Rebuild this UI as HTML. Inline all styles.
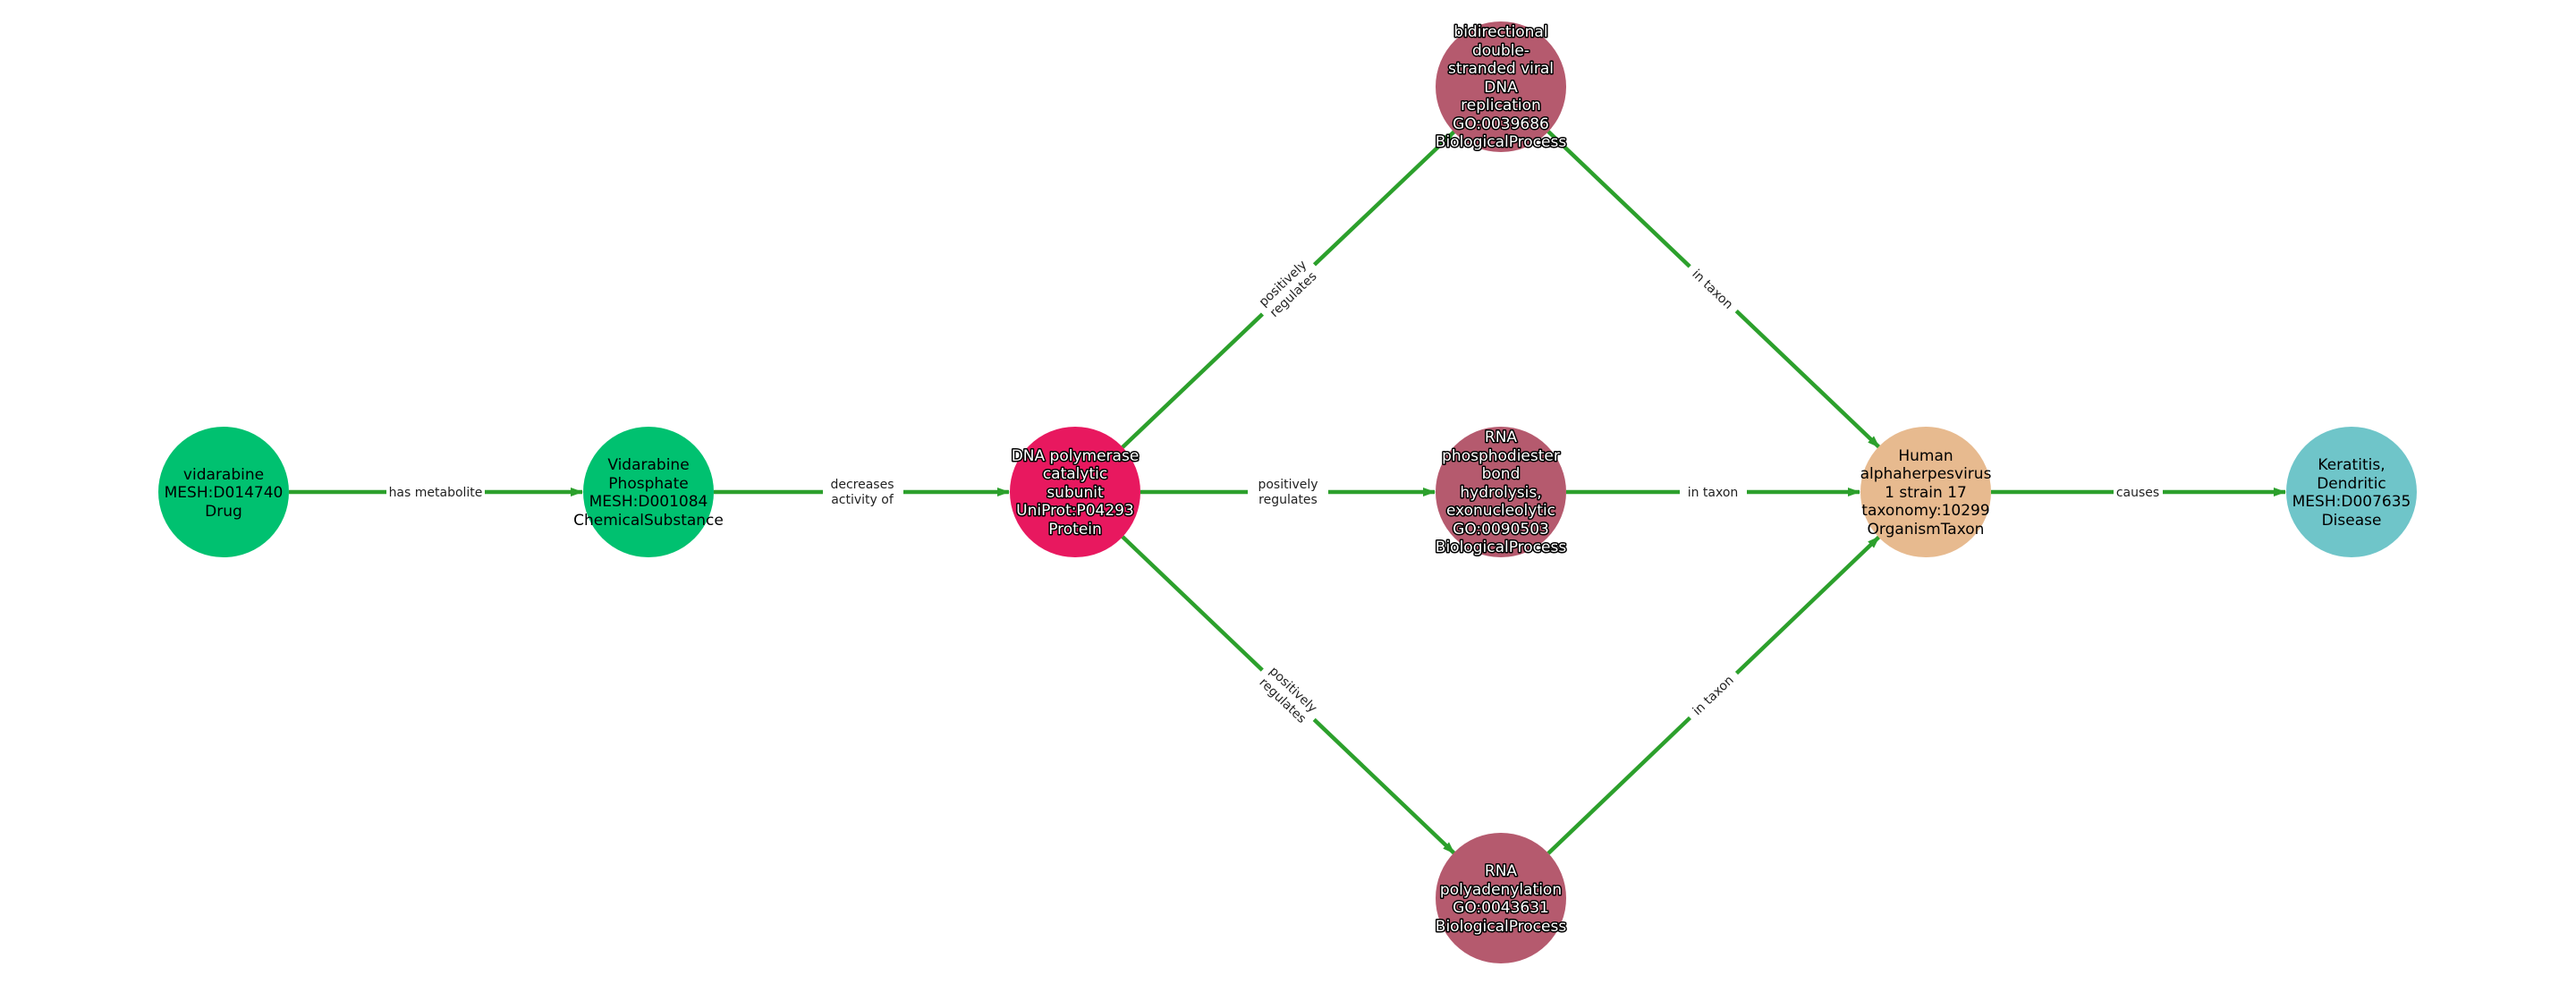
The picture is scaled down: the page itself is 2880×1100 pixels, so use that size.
<!DOCTYPE html>
<html><head><meta charset="utf-8"><style>
html,body{margin:0;padding:0;background:#fff}
svg{display:block}
.n{font-family:"DejaVu Sans","Liberation Sans",sans-serif;font-size:17px;text-anchor:middle}
.w{fill:#fff;stroke:#000;stroke-width:3px;paint-order:stroke;stroke-linejoin:round}
.e{font-family:"DejaVu Sans","Liberation Sans",sans-serif;font-size:14px;text-anchor:middle;fill:#222}
.l{stroke:#2ca02c;stroke-width:4.5;fill:none}
</style></head><body>
<svg width="2880" height="1100" viewBox="0 0 2880 1100" xmlns="http://www.w3.org/2000/svg">
<defs><marker id="a" markerWidth="14" markerHeight="10" refX="13" refY="5" orient="auto" markerUnits="userSpaceOnUse"><path d="M0,0 L14,5 L0,10 z" fill="#2ca02c"/></marker></defs>
<line class="l" x1="323" y1="550" x2="651" y2="550" marker-end="url(#a)"/>
<line class="l" x1="798" y1="550" x2="1128" y2="550" marker-end="url(#a)"/>
<line class="l" x1="1275" y1="550" x2="1604" y2="550" marker-end="url(#a)"/>
<line class="l" x1="1751" y1="550" x2="2079" y2="550" marker-end="url(#a)"/>
<line class="l" x1="2226" y1="550" x2="2555" y2="550" marker-end="url(#a)"/>
<line class="l" x1="1255" y1="500" x2="1626" y2="147" marker-end="url(#a)"/>
<line class="l" x1="1255" y1="600" x2="1626" y2="954" marker-end="url(#a)"/>
<line class="l" x1="1731" y1="147" x2="2101" y2="500" marker-end="url(#a)"/>
<line class="l" x1="1731" y1="954" x2="2101" y2="600" marker-end="url(#a)"/>
<g class="e">
<rect x="432" y="539" width="110" height="22" fill="#fff"/><text x="487" y="555">has metabolite</text>
<rect x="920" y="530" width="90" height="40" fill="#fff"/><text x="964" y="546">decreases</text><text x="964" y="563">activity of</text>
<rect x="1395" y="530" width="90" height="40" fill="#fff"/><text x="1440" y="546">positively</text><text x="1440" y="563">regulates</text>
<rect x="1878" y="539" width="75" height="22" fill="#fff"/><text x="1915" y="555">in taxon</text>
<rect x="2363" y="539" width="55" height="22" fill="#fff"/><text x="2390" y="555">causes</text>
<g transform="translate(1440,323) rotate(-43.6)"><rect x="-40" y="-20" width="80" height="40" fill="#fff"/><text x="0" y="-4">positively</text><text x="0" y="13">regulates</text></g>
<g transform="translate(1440,777) rotate(43.6)"><rect x="-40" y="-20" width="80" height="40" fill="#fff"/><text x="0" y="-4">positively</text><text x="0" y="13">regulates</text></g>
<g transform="translate(1915,323) rotate(43.6)"><rect x="-36" y="-11" width="72" height="22" fill="#fff"/><text x="0" y="5">in taxon</text></g>
<g transform="translate(1915,777) rotate(-43.6)"><rect x="-36" y="-11" width="72" height="22" fill="#fff"/><text x="0" y="5">in taxon</text></g>
</g>
<circle cx="250" cy="550" r="73" fill="#00c170"/>
<circle cx="725" cy="550" r="73" fill="#00c170"/>
<circle cx="1202" cy="550" r="73" fill="#e8185f"/>
<circle cx="1678" cy="97" r="73" fill="#b55a6e"/>
<circle cx="1678" cy="550" r="73" fill="#b55a6e"/>
<circle cx="1678" cy="1004" r="73" fill="#b55a6e"/>
<circle cx="2153" cy="550" r="73" fill="#e7ba8f"/>
<circle cx="2629" cy="550" r="73" fill="#6fc5c9"/>
<g class="n">
<text x="250" y="536">vidarabine</text><text x="250" y="556">MESH:D014740</text><text x="250" y="577">Drug</text>
<text x="725" y="525">Vidarabine</text><text x="725" y="546">Phosphate</text><text x="725" y="566">MESH:D001084</text><text x="725" y="587">ChemicalSubstance</text>
<g class="w"><text x="1202" y="515">DNA polymerase</text><text x="1202" y="535">catalytic</text><text x="1202" y="556">subunit</text><text x="1202" y="576">UniProt:P04293</text><text x="1202" y="597">Protein</text></g>
<g class="w"><text x="1678" y="41">bidirectional</text><text x="1678" y="62">double-</text><text x="1678" y="82">stranded viral</text><text x="1678" y="103">DNA</text><text x="1678" y="123">replication</text><text x="1678" y="144">GO:0039686</text><text x="1678" y="164">BiologicalProcess</text></g>
<g class="w"><text x="1678" y="494">RNA</text><text x="1678" y="515">phosphodiester</text><text x="1678" y="535">bond</text><text x="1678" y="556">hydrolysis,</text><text x="1678" y="576">exonucleolytic</text><text x="1678" y="597">GO:0090503</text><text x="1678" y="617">BiologicalProcess</text></g>
<g class="w"><text x="1678" y="979">RNA</text><text x="1678" y="1000">polyadenylation</text><text x="1678" y="1020">GO:0043631</text><text x="1678" y="1041">BiologicalProcess</text></g>
<text x="2153" y="515">Human</text><text x="2153" y="535">alphaherpesvirus</text><text x="2153" y="556">1 strain 17</text><text x="2153" y="576">taxonomy:10299</text><text x="2153" y="597">OrganismTaxon</text>
<text x="2629" y="525">Keratitis,</text><text x="2629" y="546">Dendritic</text><text x="2629" y="566">MESH:D007635</text><text x="2629" y="587">Disease</text>
</g>
</svg>
</body></html>
